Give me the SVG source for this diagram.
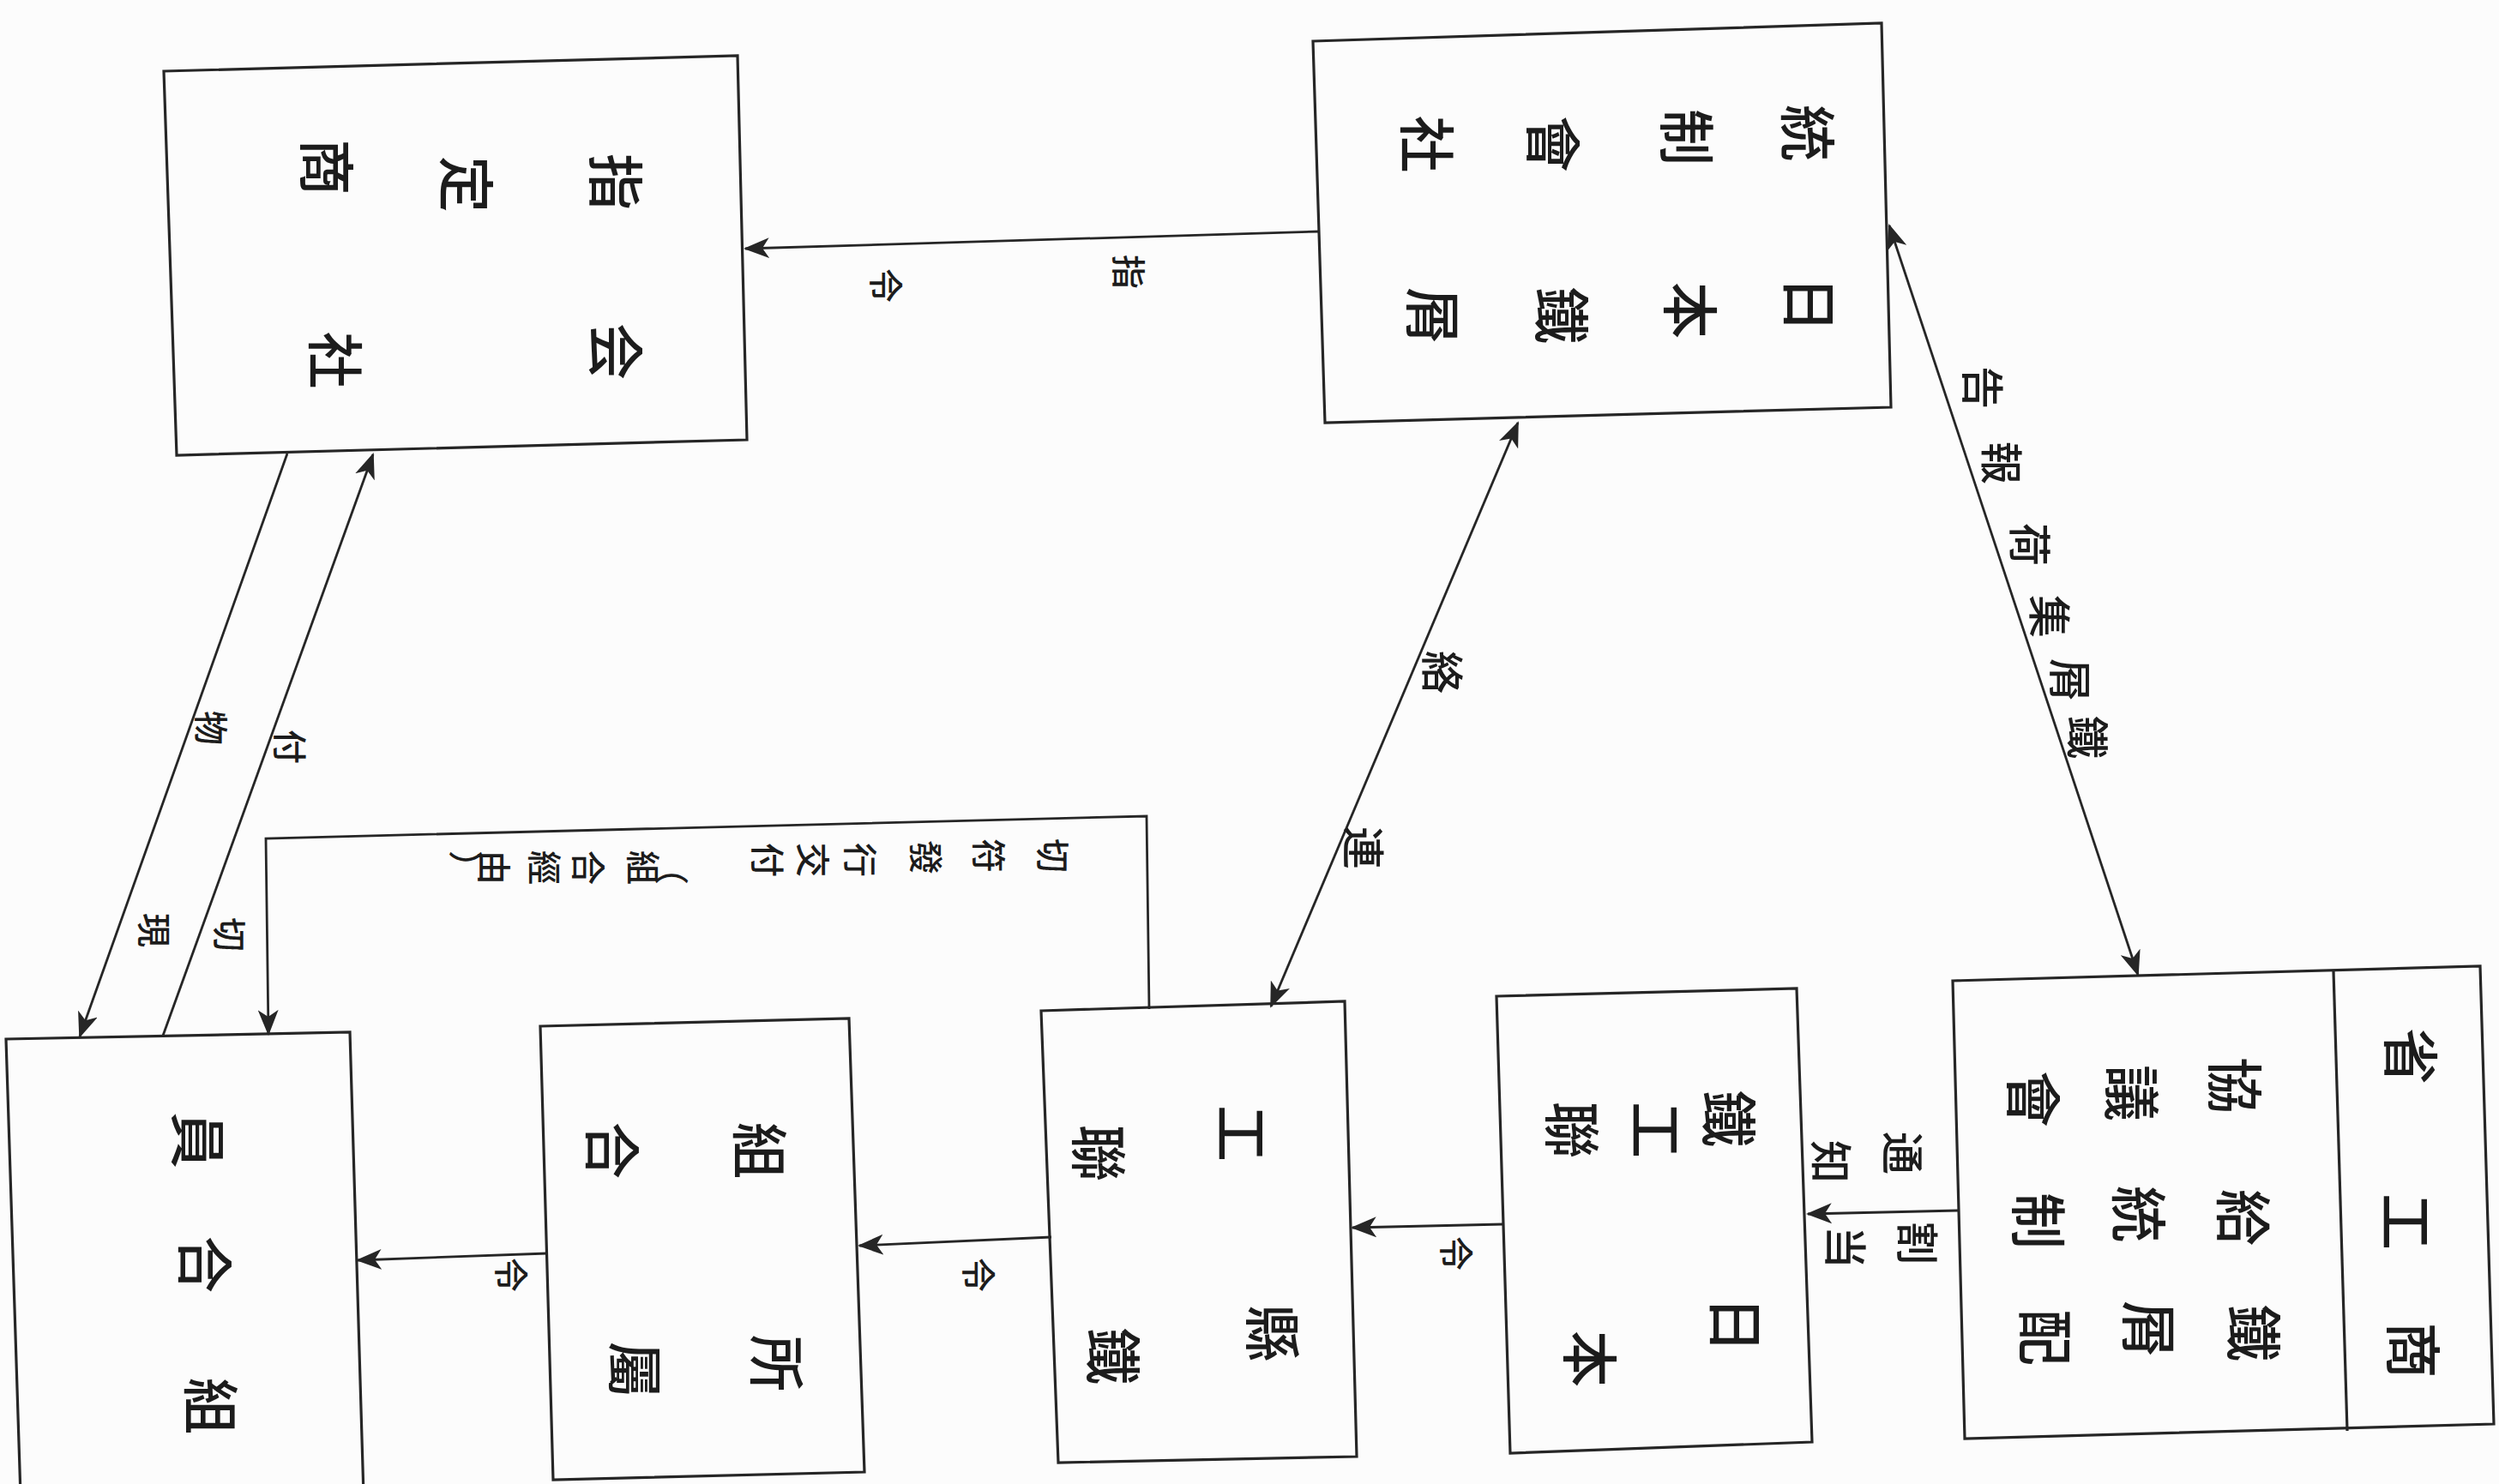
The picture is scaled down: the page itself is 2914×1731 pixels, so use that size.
<svg xmlns="http://www.w3.org/2000/svg" width="2914" height="1731" viewBox="0 0 2914 1731">
<style>
  .bg{fill:#fcfcfc}
  .box{fill:none;stroke:#262626;stroke-width:3.2;stroke-linejoin:miter}
  .ln{fill:none;stroke:#262626;stroke-width:2.8}
  text{font-family:"Noto Sans CJK JP","Noto Sans CJK SC",sans-serif;fill:#1c1c1c;text-anchor:middle;dominant-baseline:central}
  .n{font-size:66px;font-weight:500}
  .l{font-size:50px;font-weight:500}
  .s{font-size:40px;font-weight:500}
</style>
<defs>
  <marker id="ah" markerUnits="userSpaceOnUse" markerWidth="30" markerHeight="24" refX="28" refY="12" orient="auto-start-reverse">
    <path d="M0,0 L30,12 L0,24 L8,12 z" fill="#262626"/>
  </marker>
</defs>
<rect class="bg" x="0" y="0" width="2914" height="1731"/>

<g id="node-shiteishosha">
  <polygon class="box" points="191,83 860,65 871,513 206,531"/>
  <text class="n" transform="translate(722,212) rotate(90)">指</text>
  <text class="n" transform="translate(548,215) rotate(90)">定</text>
  <text class="n" transform="translate(385,195) rotate(90)">商</text>
  <text class="n" transform="translate(722,410) rotate(90)">会</text>
  <text class="n" transform="translate(395,420) rotate(90)">社</text>
</g>

<g id="node-tosei-kaisha">
  <polygon class="box" points="1531,48 2194,27 2205,475 1545,493"/>
  <text class="n" transform="translate(2112,155) rotate(90)">統</text>
  <text class="n" transform="translate(1971,160) rotate(90)">制</text>
  <text class="n" transform="translate(1815,168) rotate(90)">會</text>
  <text class="n" transform="translate(1668,168) rotate(90)">社</text>
  <text class="n" transform="translate(2114,355) rotate(90)">日</text>
  <text class="n" transform="translate(1975,362) rotate(90)">本</text>
  <text class="n" transform="translate(1825,368) rotate(90)">鐵</text>
  <text class="n" transform="translate(1675,368) rotate(90)">屑</text>
</g>

<g id="node-kyogikai">
  <polygon class="box" points="2277,1144 2892,1127 2908,1661 2291,1678"/>
  <line class="box" x1="2721" y1="1133" x2="2737" y2="1669"/>
  <text class="n" transform="translate(2815,1232) rotate(90)">省</text>
  <text class="n" transform="translate(2810,1425) rotate(90)">工</text>
  <text class="n" transform="translate(2818,1575) rotate(90)">商</text>
  <text class="n" transform="translate(2610,1266) rotate(90)">協</text>
  <text class="n" transform="translate(2490,1275) rotate(90)">議</text>
  <text class="n" transform="translate(2375,1282) rotate(90)">會</text>
  <text class="n" transform="translate(2620,1420) rotate(90)">給</text>
  <text class="n" transform="translate(2498,1416) rotate(90)">統</text>
  <text class="n" transform="translate(2381,1424) rotate(90)">制</text>
  <text class="n" transform="translate(2632,1555) rotate(90)">鐵</text>
  <text class="n" transform="translate(2510,1550) rotate(90)">屑</text>
  <text class="n" transform="translate(2389,1560) rotate(90)">配</text>
</g>

<g id="node-nihon-tekkoren">
  <polygon class="box" points="1745,1162 2095,1153 2113,1682 1761,1695"/>
  <text class="n" transform="translate(2020,1305) rotate(90)">鐵</text>
  <text class="n" transform="translate(1935,1318) rotate(90)">工</text>
  <text class="n" transform="translate(1837,1318) rotate(90)">聯</text>
  <text class="n" transform="translate(2028,1545) rotate(90)">日</text>
  <text class="n" transform="translate(1858,1585) rotate(90)">本</text>
</g>

<g id="node-ken-tekkoren">
  <polygon class="box" points="1214,1179 1568,1168 1582,1699 1234,1706"/>
  <text class="n" transform="translate(1452,1322) rotate(90)">工</text>
  <text class="n" transform="translate(1285,1345) rotate(90)">聯</text>
  <text class="n" transform="translate(1488,1555) rotate(90)">縣</text>
  <text class="n" transform="translate(1302,1582) rotate(90)">鐵</text>
</g>

<g id="node-shozoku-kumiai">
  <polygon class="box" points="630,1197 990,1188 1008,1717 645,1726"/>
  <text class="n" transform="translate(890,1342) rotate(90)">組</text>
  <text class="n" transform="translate(718,1342) rotate(90)">合</text>
  <text class="n" transform="translate(910,1590) rotate(90)">所</text>
  <text class="n" transform="translate(745,1598) rotate(90)">屬</text>
</g>

<g id="node-kumiaiin">
  <path class="box" d="M24,1745 L7,1212 L408,1204 L424,1745"/>
  <text class="n" transform="translate(235,1330) rotate(90)">員</text>
  <text class="n" transform="translate(243,1475) rotate(90)">合</text>
  <text class="n" transform="translate(250,1640) rotate(90)">組</text>
</g>

<g id="connectors">
  <line class="ln" x1="1539" y1="270" x2="869" y2="290" marker-end="url(#ah)"/>
  <line class="ln" x1="2203" y1="263" x2="2493" y2="1137" marker-start="url(#ah)" marker-end="url(#ah)"/>
  <line class="ln" x1="1770" y1="493" x2="1482" y2="1174" marker-start="url(#ah)" marker-end="url(#ah)"/>
  <line class="ln" x1="2283" y1="1412" x2="2108" y2="1416" marker-end="url(#ah)"/>
  <line class="ln" x1="1752" y1="1428" x2="1577" y2="1432" marker-end="url(#ah)"/>
  <line class="ln" x1="1226" y1="1443" x2="1002" y2="1453" marker-end="url(#ah)"/>
  <line class="ln" x1="638" y1="1462" x2="417" y2="1470" marker-end="url(#ah)"/>
  <line class="ln" x1="335" y1="529" x2="93" y2="1209" marker-end="url(#ah)"/>
  <line class="ln" x1="190" y1="1208" x2="435" y2="530" marker-end="url(#ah)"/>
  <polyline class="ln" points="1340,1177 1337,952 310,978 313,1206" marker-end="url(#ah)"/>
</g>

<g id="labels">
  <text class="s" transform="translate(1318,317) rotate(90)">指</text>
  <text class="s" transform="translate(1035,333) rotate(90)">令</text>
  <text class="l" transform="translate(2315,452) rotate(90)">告</text>
  <text class="l" transform="translate(2337,540) rotate(90)">報</text>
  <text class="l" transform="translate(2370,635) rotate(90)">荷</text>
  <text class="l" transform="translate(2393,719) rotate(90)">集</text>
  <text class="l" transform="translate(2417,793) rotate(90)">屑</text>
  <text class="l" transform="translate(2437,860) rotate(90)">鐵</text>
  <text class="l" transform="translate(1685,784) rotate(90)">絡</text>
  <text class="l" transform="translate(1593,989) rotate(90)">連</text>
  <text class="l" transform="translate(2222,1345) rotate(90)">通</text>
  <text class="l" transform="translate(2138,1355) rotate(90)">知</text>
  <text class="l" transform="translate(2239,1450) rotate(90)">割</text>
  <text class="l" transform="translate(2155,1455) rotate(90)">当</text>
  <text class="s" transform="translate(1700,1462) rotate(90)">令</text>
  <text class="s" transform="translate(1143,1487) rotate(90)">令</text>
  <text class="s" transform="translate(598,1487) rotate(90)">令</text>
  <text class="s" transform="translate(248,849) rotate(90)">物</text>
  <text class="s" transform="translate(182,1085) rotate(90)">現</text>
  <text class="s" transform="translate(340,871) rotate(90)">付</text>
  <text class="s" transform="translate(270,1090) rotate(90)">切</text>
  <text class="s" transform="translate(1230,998) rotate(90)">切</text>
  <text class="s" transform="translate(1155,998) rotate(90)">符</text>
  <text class="s" transform="translate(1082,1000) rotate(90)">發</text>
  <text class="s" transform="translate(1005,1003) rotate(90)">行</text>
  <text class="s" transform="translate(950,1003) rotate(90)">交</text>
  <text class="s" transform="translate(897,1003) rotate(90)">付</text>
  <text class="s" transform="translate(785,1012) rotate(90)">（</text>
  <text class="s" transform="translate(752,1012) rotate(90)">組</text>
  <text class="s" transform="translate(688,1012) rotate(90)">合</text>
  <text class="s" transform="translate(637,1012) rotate(90)">經</text>
  <text class="s" transform="translate(578,1012) rotate(90)">由</text>
  <text class="s" transform="translate(545,1012) rotate(90)">）</text>
</g>
</svg>
